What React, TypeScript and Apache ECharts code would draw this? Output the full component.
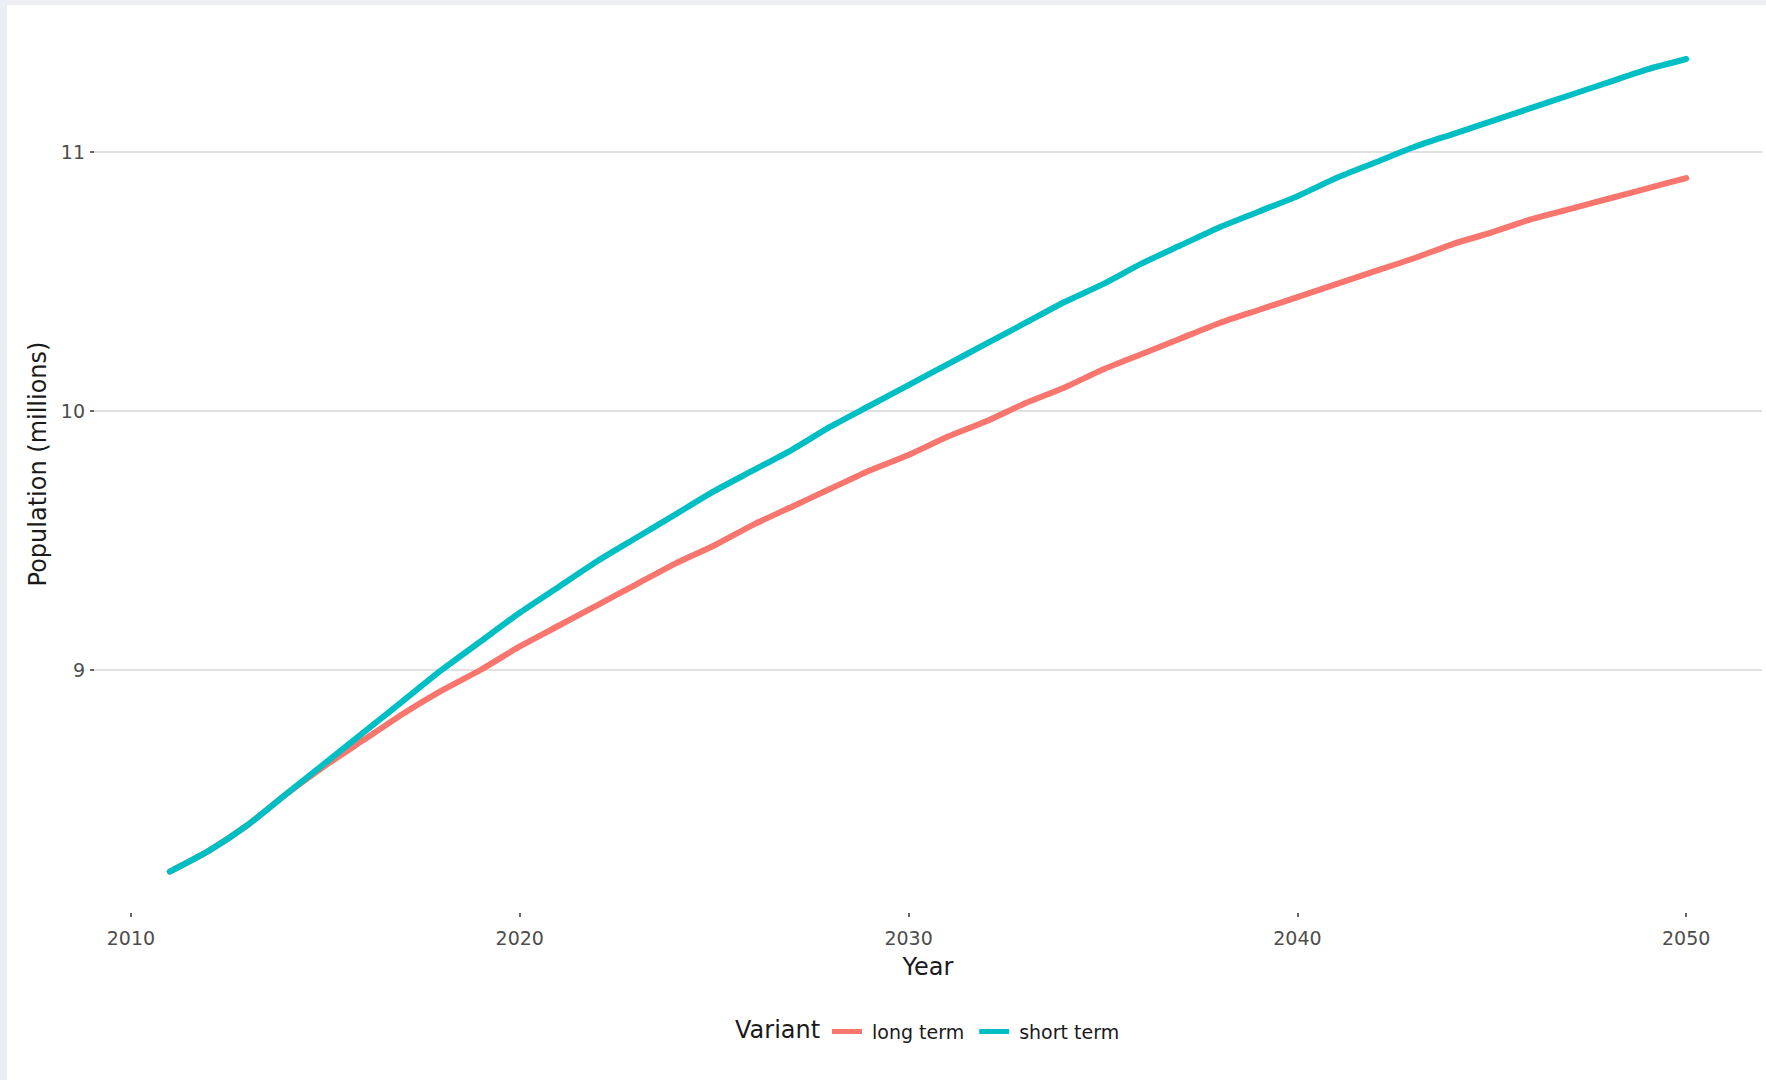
import React, { useEffect, useRef } from "react";
import * as echarts from "echarts";

const years = [
  2011, 2012, 2013, 2014, 2015, 2016, 2017, 2018, 2019, 2020,
  2021, 2022, 2023, 2024, 2025, 2026, 2027, 2028, 2029, 2030,
  2031, 2032, 2033, 2034, 2035, 2036, 2037, 2038, 2039, 2040,
  2041, 2042, 2043, 2044, 2045, 2046, 2047, 2048, 2049, 2050,
];

const longTerm = [
  8.22, 8.3, 8.4, 8.52, 8.63, 8.73, 8.83, 8.92, 9.0, 9.09,
  9.17, 9.25, 9.33, 9.41, 9.48, 9.56, 9.63, 9.7, 9.77, 9.83,
  9.9, 9.96, 10.03, 10.09, 10.16, 10.22, 10.28, 10.34, 10.39, 10.44,
  10.49, 10.54, 10.59, 10.645, 10.69, 10.74, 10.78, 10.82, 10.86, 10.9,
];

const shortTerm = [
  8.22, 8.3, 8.4, 8.52, 8.64, 8.76, 8.88, 9.0, 9.11, 9.22,
  9.32, 9.42, 9.51, 9.6, 9.69, 9.77, 9.85, 9.94, 10.02, 10.1,
  10.18, 10.26, 10.34, 10.42, 10.49, 10.57, 10.64, 10.71, 10.77, 10.83,
  10.9, 10.96, 11.02, 11.07, 11.12, 11.17, 11.22, 11.27, 11.32, 11.36,
];

const xTicks = [2010, 2020, 2030, 2040, 2050];
const yTicks = [9, 10, 11];
const seriesNames = ["long term", "short term"];
const seriesColors = ["#F8766D", "#00BFC4"];

const FONT = "'DejaVu Sans', Verdana, sans-serif";

export default function App() {
  const ref = useRef<HTMLDivElement>(null);

  useEffect(() => {
    if (!ref.current) return;
    const chart = echarts.init(ref.current, null, { renderer: "svg" });
    const seriesValues = [longTerm, shortTerm];
    chart.setOption({
      animation: false,
      backgroundColor: "#ffffff",
      grid: { left: 94, right: 4, top: 15, bottom: 167, containLabel: false },
      graphic: [
        { type: "rect", left: 0, top: 0, shape: { width: 1766, height: 5 }, style: { fill: "#eceef3" }, silent: true },
        { type: "rect", left: 0, top: 0, shape: { width: 7, height: 1080 }, style: { fill: "#eaeef5" }, silent: true },
        {
          type: "text",
          left: 735,
          top: 1018,
          style: { text: "Variant", fontSize: 24, fontFamily: FONT, fill: "#1a1a1a" },
        },
      ],
      legend: {
        data: seriesNames,
        left: 827,
        top: 1017,
        icon: "rect",
        itemWidth: 30,
        itemHeight: 5,
        itemGap: 15,
        textStyle: { fontSize: 19, fontFamily: FONT, color: "#1a1a1a", padding: [0, 0, 0, 5] },
      },
      xAxis: {
        type: "value",
        min: 2009.05,
        max: 2051.95,
        name: "Year",
        nameLocation: "middle",
        nameGap: 42,
        nameTextStyle: { fontSize: 24, fontFamily: FONT, color: "#1a1a1a" },
        axisLine: { show: false },
        axisTick: { show: true, customValues: xTicks, length: 4, lineStyle: { color: "#333333", width: 1.5 } },
        axisLabel: {
          customValues: xTicks,
          fontSize: 19,
          fontFamily: FONT,
          color: "#4d4d4d",
          margin: 15,
          formatter: (v: number) => String(v),
        },
        splitLine: { show: false },
      },
      yAxis: {
        type: "value",
        min: 8.06,
        max: 11.53,
        name: "Population (millions)",
        nameLocation: "middle",
        nameGap: 37,
        nameTextStyle: { fontSize: 24, fontFamily: FONT, color: "#1a1a1a" },
        axisLine: { show: false },
        axisTick: { show: true, customValues: yTicks, length: 4, lineStyle: { color: "#333333", width: 1.5 } },
        axisLabel: {
          customValues: yTicks,
          fontSize: 19,
          fontFamily: FONT,
          color: "#4d4d4d",
          margin: 9,
          formatter: (v: number) => String(v),
        },
        splitLine: { show: true, lineStyle: { color: "#d6d6d6", width: 1.5 } },
      },
      series: seriesNames.map((name, k) => ({
        name,
        type: "line",
        color: seriesColors[k],
        showSymbol: false,
        symbol: "none",
        smooth: 0.2,
        lineStyle: { width: 6, color: seriesColors[k], cap: "round", join: "round" },
        data: years.map((y, i) => [y, seriesValues[k][i]]),
      })),
    });
    return () => chart.dispose();
  }, []);

  return (
    <div
      ref={ref}
      style={{ position: "fixed", left: 0, top: 0, width: 1766, height: 1080 }}
    />
  );
}
